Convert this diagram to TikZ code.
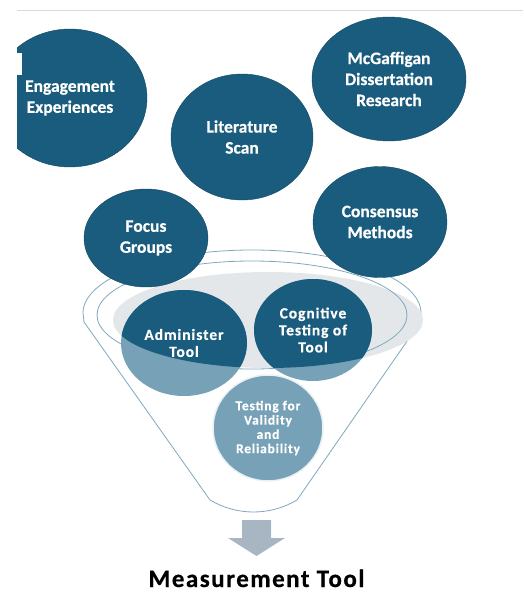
\documentclass[tikz,border=0pt]{standalone}
\usepackage{fontspec}
\setmainfont{Carlito}[BoldFeatures={FakeBold=0.5}]
\newfontfamily\spacedfont{Carlito}[LetterSpace=6, BoldFeatures={FakeBold=0.5}]
\usetikzlibrary{shapes.geometric}

\definecolor{tealdark}{HTML}{1A5C7D}
\definecolor{tealedge}{HTML}{124763}
\definecolor{teallight}{HTML}{76A1B6}
\definecolor{mouthgrey}{HTML}{E4E7EA}
\definecolor{funnelblue}{HTML}{80A7BD}
\definecolor{arrowgrey}{HTML}{A8B5C3}
\definecolor{rulegrey}{HTML}{DADADA}

\tikzset{
  topdisc/.style={ellipse, fill=tealdark, draw=tealedge, text=white, align=center,
    inner sep=0pt, font=\bfseries\fontsize{17.5}{21}\selectfont},
  middisc/.style={ellipse, fill=teallight, draw=none, align=center, inner sep=0pt},
  midtext/.style={text=white, align=center, font=\spacedfont\bfseries\fontsize{15.5}{17}\selectfont},
  funnel/.style={draw=funnelblue, line width=0.8pt}
}

\begin{document}
\begin{tikzpicture}[x=1pt,y=-1pt]
  \useasboundingbox (0,0) rectangle (523,594);
  \draw [rulegrey, line width=1pt] (17,11) -- (523,11);

  % funnel body
  \draw [funnel] (83,313) arc [start angle=180, end angle=0, x radius=169pt, y radius=63pt]
    -- (421,321) -- (297,500) .. controls (270,516) and (237,516) .. (210,500)
    -- (84,322) -- cycle;
  \fill [mouthgrey] (268,320) ellipse [x radius=155pt, y radius=48pt];
  \draw [funnel] (252,315) ellipse [x radius=155pt, y radius=54pt];

  % sources above the funnel
  \begin{scope}
    \clip (17,0) rectangle (523,594);
    \node (eng) [topdisc, minimum width=154pt, minimum height=138pt] at (70,98) {Engagement\\Experiences};
  \end{scope}
  \fill [white] (17,53) rectangle (22,75);
  \node (lit) [topdisc, minimum width=142pt, minimum height=126pt] at (242,137) {Literature\\Scan};
  \node (mcg) [topdisc, minimum width=154pt, minimum height=124pt] at (389,79) {McGaffigan\\Dissertation\\Research};
  \node (focus) [topdisc, minimum width=124pt, minimum height=98pt] at (146,238) {Focus\\Groups};
  \node (cons) [topdisc, minimum width=134pt, minimum height=111pt] at (380,222) {Consensus\\Methods};

  % steps inside the funnel
  \node (admin) [middisc, minimum width=126pt, minimum height=106pt] at (184,343) {};
  \node (cogn) [middisc, minimum width=118pt, minimum height=102pt] at (313,330) {};
  \begin{scope}
    \clip (268,320) ellipse [x radius=155pt, y radius=48pt];
    \fill [tealdark] (admin.center) ellipse [x radius=63pt, y radius=53pt];
    \fill [tealdark] (cogn.center) ellipse [x radius=59pt, y radius=51pt];
  \end{scope}
  \node [midtext] at (184,343) {Administer\\Tool};
  \node [midtext] at (313,330) {Cognitive\\Testing of\\Tool};
  \node (valid) [middisc, draw=white!85!teallight, line width=1.5pt, text=white,
    minimum width=110pt, minimum height=106pt,
    font=\spacedfont\bfseries\fontsize{13.5}{14.3}\selectfont] at (268,428)
    {Testing for\\Validity\\and\\Reliability};

  % result
  \fill [arrowgrey] (242,520) -- (271,520) -- (271,538) -- (285,538) -- (256.5,556)
    -- (228,538) -- (242,538) -- cycle;
  \node (result) [anchor=base, inner sep=0pt, font=\spacedfont\bfseries\fontsize{25}{28}\selectfont]
    at (256.5,587) {Measurement Tool};
\end{tikzpicture}
\end{document}
